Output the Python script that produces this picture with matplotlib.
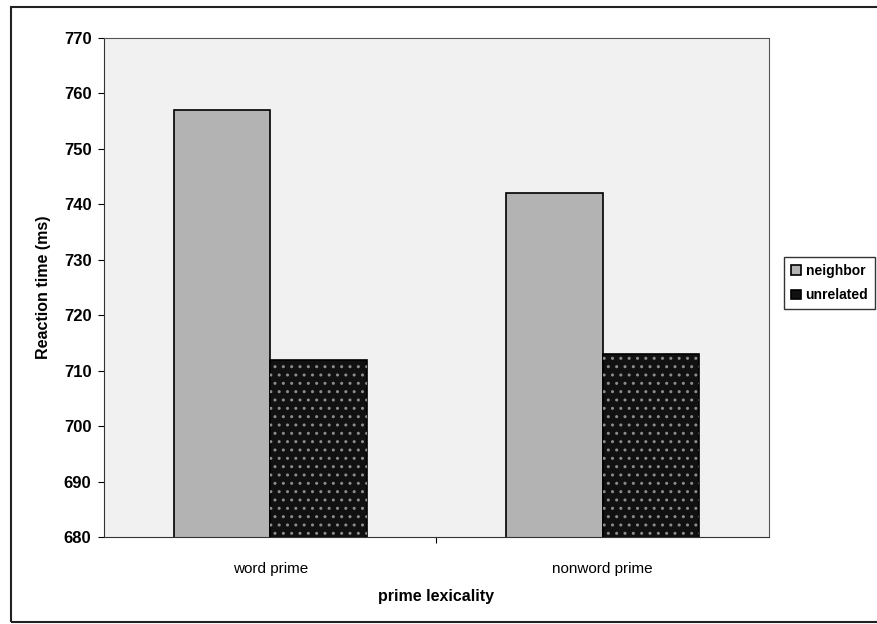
import matplotlib.pyplot as plt
import numpy as np
from matplotlib.patches import Rectangle

# data
categories = ['word prime', 'nonword prime']
neighbor = [757, 742]
unrelated = [712, 713]
series_names = ['neighbor', 'unrelated']
yticks = [680, 690, 700, 710, 720, 730, 740, 750, 760, 770]

plt.rcParams['font.family'] = ['Liberation Sans', 'DejaVu Sans']

fig = plt.figure(figsize=(8.78, 6.24), dpi=100)
# outer chart frame
fig.patches.append(Rectangle((11 / 878, 1 - 622 / 624), 1.0, (622 - 7) / 624,
                             transform=fig.transFigure, fill=False,
                             edgecolor='#222222', linewidth=1.5))

ax = fig.add_axes([104 / 878, 1 - 537 / 624, 665 / 878, 499 / 624])
ax.set_facecolor('#f1f1f1')

x = np.arange(len(categories))
w = 0.29
ax.bar(x - w / 2, neighbor, w, color='#b3b3b3', edgecolor='black',
       linewidth=1.2, label=series_names[0])
ax.bar(x + w / 2, unrelated, w, color='#111111', edgecolor='black',
       linewidth=1.2, label=series_names[1])
# light dot pattern on the dark bars
ax.bar(x + w / 2, unrelated, w, color='none', edgecolor='#8c8c8c',
       linewidth=0, hatch='..')

ax.set_ylim(680, 770)
ax.set_xlim(-0.5, 1.5)
ax.set_yticks(yticks)
ax.set_xticks([0.5])
ax.set_xticklabels([])
ax.tick_params(axis='y', length=4, labelsize=12, pad=5)
ax.tick_params(axis='x', length=4)
for lab in ax.get_yticklabels():
    lab.set_fontweight('bold')
for i, c in enumerate(categories):
    ax.text(x[i], 675.5, c, ha='center', va='top', fontsize=11)

for s in ['top', 'right']:
    ax.spines[s].set_color('#555555')
ax.spines['left'].set_color('#333333')
ax.spines['bottom'].set_color('#333333')

ax.set_ylabel('Reaction time (ms)', fontsize=11.5, fontweight='bold', labelpad=9)
fig.text(436 / 878, 1 - 597 / 624, 'prime lexicality', ha='center', va='center',
         fontsize=11.5, fontweight='bold')

leg = fig.legend(loc='upper left', bbox_to_anchor=(784 / 878, 1 - 257 / 624),
                 frameon=True, fancybox=False, edgecolor='black',
                 prop={'size': 10, 'weight': 'bold'},
                 handlelength=0.7, handleheight=0.7,
                 handletextpad=0.35, borderpad=0.5, borderaxespad=0,
                 labelspacing=0.75)
leg.get_frame().set_linewidth(1.0)

fig.savefig('out.png', dpi=100)
